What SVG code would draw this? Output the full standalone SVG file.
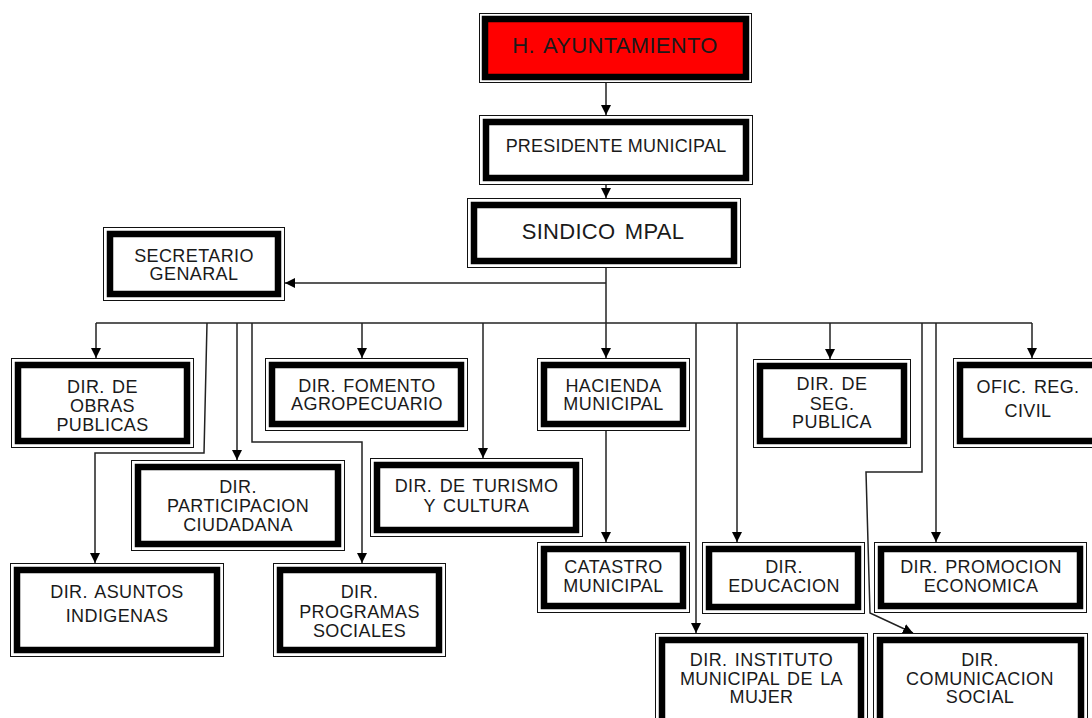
<svg xmlns="http://www.w3.org/2000/svg" width="1092" height="718" viewBox="0 0 1092 718">
<style>
.o{fill:#fff;stroke:#111;stroke-width:1}
.t{fill:none;stroke:#000;stroke-width:6.5}
.red{fill:#ff0000}
.w{fill:#fff}
text{font-family:"Liberation Sans",Arial,sans-serif;font-size:18px;fill:#1a1a1a;text-anchor:middle;letter-spacing:0.4px;word-spacing:2px}
.big{font-size:22px;letter-spacing:0.3px;word-spacing:3px}
.pm{letter-spacing:0.2px;word-spacing:0}
.c{fill:none;stroke:#222;stroke-width:1.5}
</style>
<defs>
<marker id="a" viewBox="0 0 10 10" refX="10" refY="5" markerWidth="10" markerHeight="10" markerUnits="userSpaceOnUse" orient="auto"><path d="M0,0 L10,5 L0,10 z" fill="#000"/></marker>
</defs>
<rect width="1092" height="718" fill="#fff"/>
<g id="connectors">
<path class="c" d="M606 83 V115" marker-end="url(#a)"/>
<path class="c" d="M606 185 V198" marker-end="url(#a)"/>
<path class="c" d="M606 268 V323"/>
<path class="c" d="M606 283 H285" marker-end="url(#a)"/>
<path class="c" d="M96 323 H1032"/>
<path class="c" d="M96 323 V358" marker-end="url(#a)"/>
<path class="c" d="M207 323 L204 453 H95 V563" marker-end="url(#a)"/>
<path class="c" d="M237 323 V460" marker-end="url(#a)"/>
<path class="c" d="M252 323 V442 H362 V563" marker-end="url(#a)"/>
<path class="c" d="M362 323 V358" marker-end="url(#a)"/>
<path class="c" d="M483 323 V458" marker-end="url(#a)"/>
<path class="c" d="M606 323 V358" marker-end="url(#a)"/>
<path class="c" d="M606 431 V542" marker-end="url(#a)"/>
<path class="c" d="M696 323 V633" marker-end="url(#a)"/>
<path class="c" d="M737 323 V542" marker-end="url(#a)"/>
<path class="c" d="M830 323 V359" marker-end="url(#a)"/>
<path class="c" d="M922 323 V472 H866 L870 613 L913 633" marker-end="url(#a)"/>
<path class="c" d="M936 323 V542" marker-end="url(#a)"/>
<path class="c" d="M1032 323 V358" marker-end="url(#a)"/>
</g>
<g id="ayuntamiento">
<rect class="o" x="479.5" y="13.5" width="272" height="69"/>
<rect class="t red" x="485" y="19" width="261" height="58"/>
<text class="big" x="615" y="53">H. AYUNTAMIENTO</text>
</g>
<g id="presidente">
<rect class="o" x="479.5" y="115.5" width="273" height="69"/>
<rect class="t w" x="486" y="122" width="260" height="56"/>
<text class="pm" x="616" y="152">PRESIDENTE MUNICIPAL</text>
</g>
<g id="sindico">
<rect class="o" x="467.5" y="198.5" width="273" height="69"/>
<rect class="t w" x="474" y="205" width="260" height="56"/>
<text class="big" x="603" y="239">SINDICO MPAL</text>
</g>
<g id="secretario">
<rect class="o" x="103.5" y="227.5" width="181" height="73"/>
<rect class="t w" x="110" y="234" width="168" height="60"/>
<text x="194" y="262">SECRETARIO</text>
<text x="194" y="280">GENARAL</text>
</g>
<g id="obras">
<rect class="o" x="11.5" y="358.5" width="182" height="89"/>
<rect class="t w" x="18" y="365" width="169" height="76"/>
<text x="102.5" y="393">DIR. DE</text>
<text x="102.5" y="412">OBRAS</text>
<text x="102.5" y="431">PUBLICAS</text>
</g>
<g id="fomento">
<rect class="o" x="265.5" y="358.5" width="202" height="72"/>
<rect class="t w" x="272" y="365" width="189" height="59"/>
<text x="367" y="392">DIR. FOMENTO</text>
<text x="367" y="410">AGROPECUARIO</text>
</g>
<g id="participacion">
<rect class="o" x="131.5" y="460.5" width="213" height="90"/>
<rect class="t w" x="138" y="467" width="200" height="77"/>
<text x="238" y="493">DIR.</text>
<text x="238" y="512">PARTICIPACION</text>
<text x="238" y="531">CIUDADANA</text>
</g>
<g id="turismo">
<rect class="o" x="370.5" y="458.5" width="212" height="78"/>
<rect class="t w" x="377" y="465" width="199" height="65"/>
<text x="476.5" y="492">DIR. DE TURISMO</text>
<text x="476.5" y="512">Y CULTURA</text>
</g>
<g id="asuntos">
<rect class="o" x="10.5" y="563.5" width="213" height="93"/>
<rect class="t w" x="17" y="570" width="200" height="80"/>
<text x="117" y="598">DIR. ASUNTOS</text>
<text x="117" y="622">INDIGENAS</text>
</g>
<g id="programas">
<rect class="o" x="273.5" y="563.5" width="172" height="93"/>
<rect class="t w" x="280" y="570" width="159" height="80"/>
<text x="359.5" y="598">DIR.</text>
<text x="359.5" y="618">PROGRAMAS</text>
<text x="359.5" y="637">SOCIALES</text>
</g>
<g id="hacienda">
<rect class="o" x="537.5" y="358.5" width="152" height="72"/>
<rect class="t w" x="544" y="365" width="139" height="59"/>
<text x="613.5" y="392">HACIENDA</text>
<text x="613.5" y="410">MUNICIPAL</text>
</g>
<g id="catastro">
<rect class="o" x="537.5" y="542.5" width="152" height="70"/>
<rect class="t w" x="544" y="549" width="139" height="57"/>
<text x="613.5" y="573">CATASTRO</text>
<text x="613.5" y="592">MUNICIPAL</text>
</g>
<g id="educacion">
<rect class="o" x="702.5" y="542.5" width="162" height="71"/>
<rect class="t w" x="709" y="549" width="149" height="58"/>
<text x="784" y="573">DIR.</text>
<text x="784" y="592">EDUCACION</text>
</g>
<g id="seguridad">
<rect class="o" x="753.5" y="359.5" width="157" height="88"/>
<rect class="t w" x="760" y="366" width="144" height="75"/>
<text x="832" y="390">DIR. DE</text>
<text x="832" y="410">SEG.</text>
<text x="832" y="428">PUBLICA</text>
</g>
<g id="registro">
<rect class="o" x="953.5" y="358.5" width="150" height="89"/>
<rect class="t w" x="960" y="365" width="137" height="76"/>
<text x="1028" y="393">OFIC. REG.</text>
<text x="1028" y="417">CIVIL</text>
</g>
<g id="promocion">
<rect class="o" x="874.5" y="542.5" width="212" height="70"/>
<rect class="t w" x="881" y="549" width="199" height="57"/>
<text x="981" y="573">DIR. PROMOCION</text>
<text x="981" y="592">ECONOMICA</text>
</g>
<g id="instituto">
<rect class="o" x="655.5" y="633.5" width="212" height="95"/>
<rect class="t w" x="662" y="640" width="199" height="82"/>
<text x="761.5" y="666">DIR. INSTITUTO</text>
<text x="761.5" y="685">MUNICIPAL DE LA</text>
<text x="761.5" y="703">MUJER</text>
</g>
<g id="comunicacion">
<rect class="o" x="873.5" y="633.5" width="214" height="95"/>
<rect class="t w" x="880" y="640" width="201" height="82"/>
<text x="980" y="666">DIR.</text>
<text x="980" y="685">COMUNICACION</text>
<text x="980" y="703">SOCIAL</text>
</g>
</svg>
